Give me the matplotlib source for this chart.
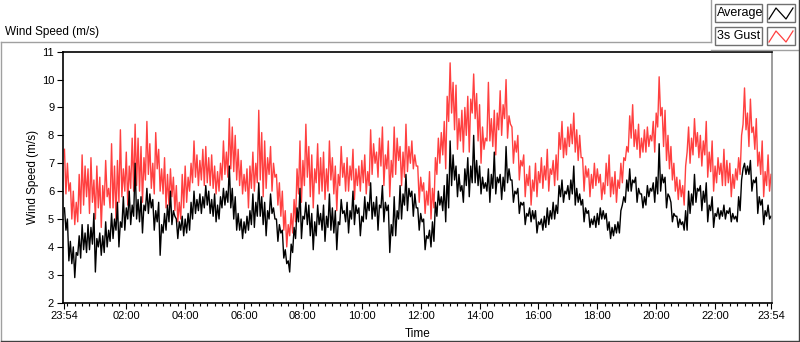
"""Wind speed over one day: average and 3 s gust, LabVIEW-looking chart."""

import matplotlib

matplotlib.use("Agg")
import matplotlib.pyplot as plt  # noqa: E402
import numpy as np  # noqa: E402
from matplotlib.lines import Line2D  # noqa: E402
from matplotlib.patches import Rectangle  # noqa: E402

plt.rcParams["font.family"] = ["Liberation Sans", "DejaVu Sans"]

# samples every 3 minutes, starting 23:54
step_min = 3

gust = [
    7.5, 5.9, 7.0, 6.0, 6.3, 5.0, 6.0, 4.8, 5.6, 4.9, 6.6, 5.2, 7.3, 5.5, 6.9, 5.8,
    6.8, 5.2, 7.2, 5.6, 6.4, 5.0, 6.9, 5.4, 6.5, 4.7, 6.2, 5.5, 7.1, 5.8, 6.1, 5.4,
    7.7, 5.4, 6.9, 5.0, 7.1, 5.6, 8.2, 5.8, 6.8, 6.0, 7.4, 5.5, 6.9, 6.1, 7.9, 6.0,
    8.4, 6.2, 7.9, 6.0, 7.6, 5.6, 7.2, 6.4, 8.5, 6.6, 7.7, 6.1, 7.0, 5.9, 8.1, 6.8,
    7.5, 6.0, 6.8, 5.9, 7.2, 5.4, 6.6, 5.5, 6.8, 5.8, 6.5, 5.3, 6.2, 4.9, 5.6, 5.0,
    6.6, 5.4, 6.9, 5.6, 6.5, 6.0, 7.0, 6.3, 7.8, 6.5, 7.3, 6.2, 7.1, 6.4, 7.5, 6.2,
    7.6, 6.3, 7.2, 6.2, 7.3, 6.1, 6.9, 5.9, 6.7, 6.0, 7.0, 6.4, 7.8, 6.6, 7.4, 6.5,
    8.6, 6.8, 8.3, 6.7, 8.0, 6.4, 7.5, 6.2, 7.1, 5.9, 6.6, 6.0, 6.8, 5.4, 6.9, 6.1,
    7.4, 6.0, 7.0, 6.3, 8.9, 6.4, 8.1, 5.8, 7.8, 6.1, 7.2, 6.6, 7.6, 6.0, 7.0, 6.5,
    6.6, 5.5, 6.3, 5.1, 6.0, 4.6, 5.3, 4.0, 4.8, 4.4, 5.2, 4.5, 5.7, 4.9, 6.8, 5.9,
    7.8, 5.6, 7.1, 6.2, 8.4, 6.5, 7.6, 5.8, 7.3, 5.4, 6.8, 6.3, 7.7, 5.9, 7.2, 6.0,
    7.4, 5.7, 6.8, 6.0, 7.8, 6.4, 7.2, 5.9, 6.9, 5.3, 6.6, 6.2, 7.6, 6.5, 7.0, 6.0,
    7.2, 6.0, 6.9, 6.4, 7.5, 5.7, 6.8, 6.2, 6.9, 6.0, 7.1, 6.3, 7.3, 5.9, 6.7, 6.2,
    8.2, 6.6, 7.7, 7.0, 7.4, 6.5, 7.9, 6.9, 8.3, 6.2, 7.3, 6.8, 7.8, 5.8, 7.1, 6.5,
    8.3, 6.6, 7.9, 7.1, 7.6, 6.2, 7.4, 6.5, 8.4, 6.7, 7.6, 7.0, 7.8, 6.8, 7.3, 6.9,
    6.9, 5.6, 6.5, 6.0, 6.3, 5.2, 6.0, 5.5, 6.7, 5.0, 6.1, 5.4, 7.2, 6.6, 7.9, 7.0,
    8.1, 7.3, 8.5, 6.8, 9.4, 8.5, 10.6, 8.8, 9.9, 8.2, 9.8, 7.5, 8.6, 7.8, 8.9, 7.4,
    9.0, 8.0, 9.4, 7.4, 9.3, 8.8, 10.2, 8.6, 9.5, 7.8, 9.1, 7.0, 8.3, 7.5, 7.9, 7.8,
    9.9, 7.8, 8.6, 7.6, 8.9, 7.3, 8.8, 8.2, 9.6, 8.0, 9.1, 8.6, 10.0, 7.9, 8.7, 8.4,
    8.3, 7.0, 7.8, 7.4, 8.0, 6.4, 7.1, 6.9, 7.3, 5.8, 6.6, 6.2, 6.9, 5.5, 6.4, 6.0,
    7.0, 5.8, 6.7, 6.3, 7.2, 6.1, 6.9, 6.4, 7.5, 6.0, 6.8, 6.6, 7.1, 6.2, 7.3, 6.4,
    8.1, 7.5, 8.5, 7.2, 7.9, 7.3, 8.3, 7.6, 8.4, 7.7, 8.8, 7.4, 8.2, 7.1, 8.0, 7.2,
    7.2, 6.0, 6.9, 6.5, 6.8, 5.8, 6.6, 6.1, 7.0, 6.2, 6.8, 6.3, 6.6, 5.7, 6.3, 5.9,
    7.0, 6.2, 7.3, 5.8, 6.5, 5.9, 6.7, 5.6, 6.4, 6.1, 7.0, 6.3, 7.2, 7.1, 7.6, 7.4,
    8.7, 7.9, 9.1, 7.6, 8.2, 7.5, 8.4, 7.2, 7.9, 7.4, 8.2, 7.4, 8.3, 7.6, 8.0, 7.8,
    8.5, 7.4, 8.8, 8.3, 10.1, 8.7, 9.0, 7.6, 8.9, 7.1, 8.0, 6.8, 7.6, 6.4, 7.0, 6.0,
    6.5, 5.7, 6.4, 5.8, 6.2, 5.5, 6.9, 7.4, 8.3, 7.0, 7.9, 7.3, 8.6, 7.6, 8.1, 7.2,
    8.0, 6.9, 7.8, 7.3, 8.5, 6.5, 7.4, 6.7, 7.8, 6.0, 6.9, 6.3, 7.2, 6.6, 7.0, 6.2,
    7.5, 6.2, 7.1, 6.3, 7.0, 5.8, 6.6, 6.1, 6.8, 6.4, 7.2, 6.6, 8.0, 8.4, 9.7, 8.2,
    8.8, 7.6, 9.3, 8.1, 8.3, 7.5, 8.6, 6.9, 7.4, 6.6, 7.8, 5.8, 6.7, 6.2, 7.3, 6.0,
    6.6,
]

average = [
    5.4, 4.6, 5.0, 3.5, 4.2, 3.4, 4.0, 2.9, 3.8, 3.7, 4.4, 3.6, 4.8, 3.9, 4.5, 3.8,
    4.8, 3.9, 4.7, 4.1, 5.2, 3.1, 4.3, 4.0, 4.5, 3.7, 4.4, 3.8, 4.9, 4.0, 4.6, 4.2,
    5.2, 4.3, 5.0, 4.6, 5.6, 4.0, 4.9, 4.7, 5.8, 4.6, 5.4, 5.0, 6.0, 4.8, 5.5, 5.1,
    7.0, 5.0, 5.7, 4.9, 5.8, 4.5, 5.5, 5.3, 6.1, 5.2, 5.9, 5.4, 5.7, 4.6, 5.3, 4.9,
    5.6, 3.7, 4.8, 4.5, 5.2, 4.6, 5.5, 4.9, 6.0, 4.8, 5.3, 5.1, 5.0, 4.3, 4.9, 4.6,
    5.1, 4.4, 5.0, 4.5, 5.2, 4.6, 5.6, 5.0, 6.0, 5.2, 5.7, 5.3, 5.9, 5.2, 5.8, 5.4,
    6.2, 5.5, 6.0, 5.2, 5.7, 5.1, 5.9, 4.9, 5.5, 5.0, 5.8, 5.4, 6.1, 5.5, 6.0, 5.6,
    6.9, 5.4, 6.1, 5.0, 5.8, 4.6, 5.2, 4.6, 5.0, 4.3, 4.9, 4.5, 5.1, 4.6, 5.3, 4.8,
    5.9, 4.7, 5.6, 5.1, 6.3, 5.1, 5.8, 4.8, 5.6, 4.4, 5.3, 5.0, 5.9, 5.2, 5.4, 5.0,
    5.0, 4.2, 4.8, 4.5, 4.6, 3.6, 3.9, 3.4, 3.5, 3.1, 4.1, 3.8, 4.7, 4.3, 5.4, 4.9,
    6.1, 4.3, 5.1, 5.0, 5.6, 4.8, 5.5, 4.4, 5.2, 3.9, 4.9, 4.4, 5.5, 4.8, 5.2, 4.6,
    5.5, 4.2, 5.1, 4.7, 5.9, 4.6, 5.4, 4.5, 5.3, 3.9, 4.9, 4.8, 5.7, 5.2, 5.3, 4.9,
    5.6, 4.5, 5.3, 5.0, 6.0, 4.8, 5.5, 5.2, 5.4, 4.4, 5.1, 4.9, 5.8, 5.0, 5.6, 5.3,
    6.3, 5.0, 5.6, 5.1, 5.8, 4.6, 5.5, 5.4, 6.2, 4.9, 5.6, 5.3, 5.5, 3.8, 4.8, 4.4,
    5.8, 4.4, 5.3, 5.0, 6.2, 5.0, 5.9, 5.5, 6.6, 5.3, 6.1, 5.8, 6.0, 5.1, 5.9, 5.4,
    5.4, 4.6, 5.2, 4.9, 5.0, 3.9, 4.4, 4.3, 4.6, 4.0, 4.9, 4.2, 5.6, 5.1, 6.0, 5.5,
    5.8, 5.3, 6.2, 4.9, 6.6, 5.4, 7.8, 6.2, 7.3, 6.4, 6.9, 5.8, 6.6, 6.0, 6.2, 5.6,
    6.8, 6.2, 7.2, 5.8, 6.9, 6.3, 8.0, 6.3, 7.1, 6.2, 6.9, 5.9, 6.5, 6.1, 6.3, 6.0,
    6.8, 5.6, 6.6, 6.1, 7.4, 5.9, 6.5, 6.3, 6.6, 5.7, 6.5, 6.0, 7.6, 6.3, 6.8, 6.4,
    6.4, 5.6, 6.0, 5.9, 6.1, 5.2, 5.6, 5.5, 5.6, 4.8, 5.2, 5.1, 5.4, 4.9, 5.3, 5.0,
    5.3, 4.5, 4.9, 4.8, 5.0, 4.6, 5.1, 4.7, 5.4, 4.8, 5.3, 5.0, 5.6, 5.0, 5.5, 5.2,
    6.2, 5.8, 6.4, 5.6, 6.0, 5.9, 6.2, 5.7, 6.4, 5.9, 6.9, 5.5, 6.1, 5.6, 5.9, 5.5,
    5.7, 4.9, 5.4, 5.2, 5.3, 4.7, 5.0, 4.8, 5.1, 4.7, 5.2, 4.8, 5.4, 5.0, 5.3, 5.0,
    5.2, 4.6, 4.9, 4.3, 4.7, 4.4, 4.8, 4.5, 4.9, 4.5, 5.3, 5.5, 5.8, 5.6, 6.4, 6.0,
    6.8, 6.0, 6.4, 6.3, 6.5, 5.6, 6.1, 5.9, 5.9, 5.4, 5.8, 5.5, 6.2, 5.8, 6.1, 6.0,
    6.3, 5.6, 6.5, 5.9, 7.7, 6.0, 6.6, 6.3, 6.5, 5.4, 5.9, 5.8, 5.6, 4.9, 5.2, 5.1,
    5.1, 4.7, 5.0, 4.8, 4.9, 4.6, 5.3, 4.6, 6.0, 5.2, 5.9, 5.5, 6.6, 5.6, 6.1, 6.0,
    6.2, 5.3, 6.0, 5.6, 6.3, 4.9, 5.5, 5.3, 5.8, 4.7, 5.2, 5.1, 5.4, 5.0, 5.3, 5.1,
    5.5, 5.0, 5.3, 5.2, 5.4, 4.9, 5.2, 5.0, 5.1, 4.9, 5.8, 5.3, 6.4, 6.8, 7.0, 6.6,
    6.9, 6.6, 7.1, 6.0, 6.4, 6.3, 6.5, 5.2, 5.8, 5.5, 5.7, 4.8, 5.3, 5.1, 5.5, 5.0,
    5.1,
]

time_labels = ["23:54", "02:00", "04:00", "06:00", "08:00", "10:00", "12:00",
               "14:00", "16:00", "18:00", "20:00", "22:00", "23:54"]
y_ticks = [2, 3, 4, 5, 6, 7, 8, 9, 10, 11]

RED = "#ff4040"
START = 23 * 60 + 54


def minutes_from_start(label):
    h, m = label.split(":")
    return (int(h) * 60 + int(m) - START) % 1440


t = np.arange(len(gust)) * step_min
tick_pos = [minutes_from_start(s) for s in time_labels]
tick_pos[-1] = 1440

fig = plt.figure(figsize=(8, 3.42), dpi=100)
ax = fig.add_axes([62.5 / 800, 39.3 / 342, 709.5 / 800, 251 / 342])

ax.plot(t, gust, color=RED, linewidth=1.0)
ax.plot(t, average, color="black", linewidth=1.0)

ax.set_xlim(-4, 1442)
ax.set_ylim(2, 11)
ax.set_yticks(y_ticks)
ax.set_xticks(tick_pos)
ax.set_xticklabels(time_labels)
ax.set_xticks(np.arange(6, 1440, 15), minor=True)
ax.tick_params(axis="both", which="major", length=4, width=0.8, labelsize=8,
               pad=2, colors="black")
ax.tick_params(axis="x", which="minor", length=2.5, width=0.8)
ax.set_xlabel("Time", fontsize=8.5)
ax.xaxis.set_label_coords(0.5, -0.1)
ax.set_ylabel("Wind Speed (m/s)", fontsize=8.5, labelpad=2)
for side in ("left", "top", "bottom"):
    ax.spines[side].set_color("black")
    ax.spines[side].set_linewidth(1.2)
ax.spines["right"].set_color("#8c8c8c")
ax.spines["right"].set_linewidth(1.2)

# chart caption and panel frame
fig.text(5 / 800, 1 - 32 / 342, "Wind Speed (m/s)", fontsize=8.5,
         va="center", ha="left")


def fx(px):
    return px / 800


def fy(py):
    return 1 - py / 342


frame = [
    ([0.5, 711], [42, 42], "#a0a0a0"),
    ([0.5, 0.5], [42, 341], "#a0a0a0"),
    ([711, 711], [0, 42], "#a0a0a0"),
    ([711, 798.5], [50, 50], "#a0a0a0"),
    ([798.5, 798.5], [0, 341], "#404040"),
    ([0.5, 798.5], [340.5, 340.5], "#404040"),
]
for xs, ys, c in frame:
    fig.add_artist(Line2D([fx(v) for v in xs], [fy(v) for v in ys],
                          color=c, linewidth=1.0))

# legend boxes like the LabVIEW plot legend
for i, (name, color) in enumerate([("Average", "black"), ("3s Gust", RED)]):
    top = 4 + i * 23
    fig.add_artist(Rectangle((fx(715), fy(top + 18)), 47 / 800, 18 / 342,
                             transform=fig.transFigure, facecolor="white",
                             edgecolor="#707070", linewidth=1.0))
    fig.text(fx(717), fy(top + 9), name, fontsize=9, va="center", ha="left")
    fig.add_artist(Rectangle((fx(767), fy(top + 18)), 28 / 800, 18 / 342,
                             transform=fig.transFigure, facecolor="white",
                             edgecolor="#707070", linewidth=1.0))
    zx = [769, 776, 786, 793]
    zy = [top + 15, top + 4, top + 15, top + 4]
    fig.add_artist(Line2D([fx(v) for v in zx], [fy(v) for v in zy],
                          color=color, linewidth=0.9))

fig.savefig("out.png", dpi=100)
